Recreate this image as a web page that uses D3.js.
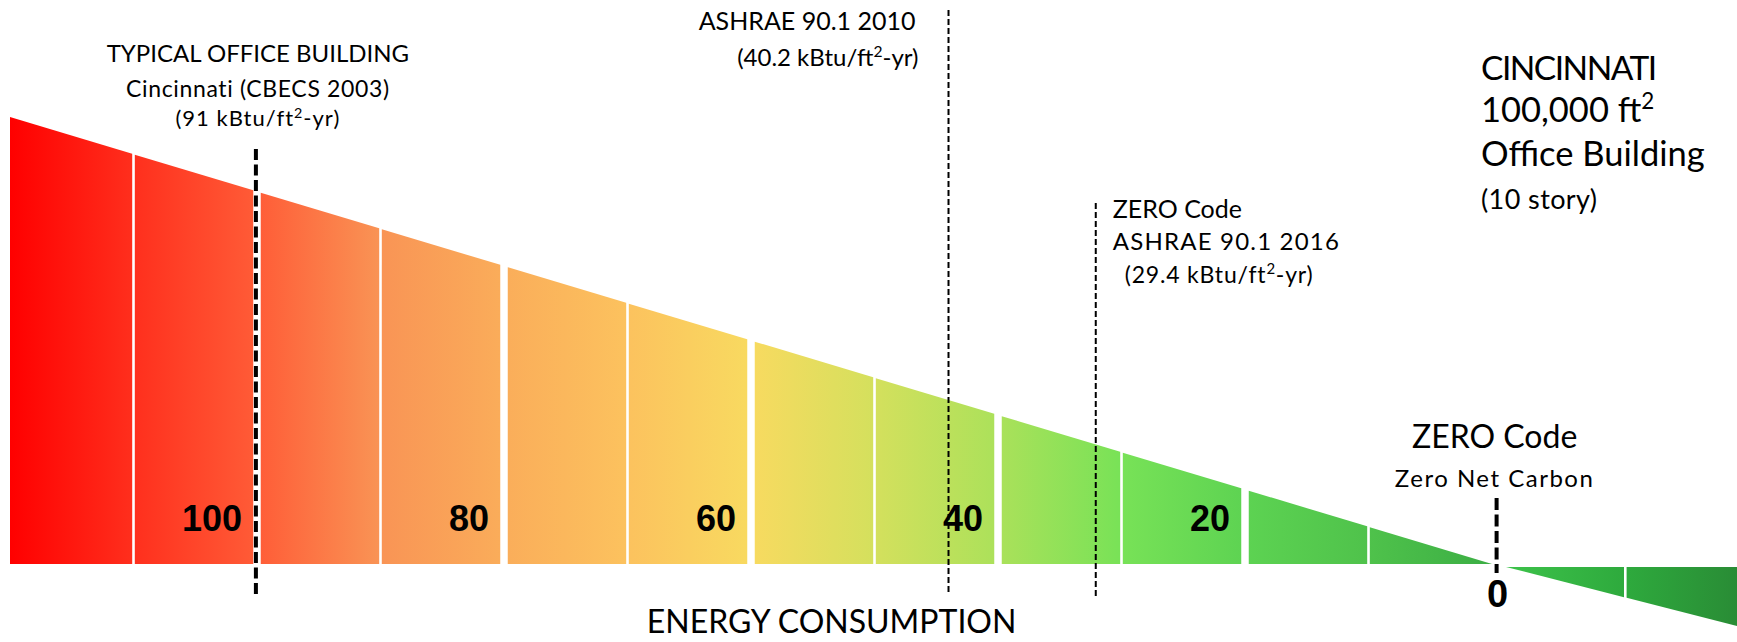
<!DOCTYPE html>
<html>
<head>
<meta charset="utf-8">
<script src="https://cdn.jsdelivr.net/npm/d3@7"></script>
<style>
  html, body { margin: 0; padding: 0; background: #fff; }
  svg { display: block; }
  text { font-family: Lato, "Open Sans", sans-serif; fill: #000; }
  .num { font-family: "Liberation Sans", Arial, sans-serif; font-weight: bold; }
</style>
</head>
<body>
<script>
// Energy-use bands, in kBtu/ft²-yr, from the high end down to zero
const bandEdges = [120, 110, 100, 90, 80, 70, 60, 50, 40, 30, 20, 10, 0];
// Bands beyond zero (net energy producer)
const belowEdges = [0, -10, -20];
// Numbers printed inside the bands
const bandLabels = [100, 80, 60, 40, 20];
const zeroLabel = 0;

// Benchmark levels, kBtu/ft²-yr
const benchmarkValues = [91, 40.2, 29.4, 0];
const typicalLines = ["TYPICAL OFFICE BUILDING", "Cincinnati (CBECS 2003)"];
const ashrae2010Lines = ["ASHRAE 90.1 2010"];
const ashrae2016Lines = ["ZERO Code", "ASHRAE 90.1 2016"];
const zeroLines = ["ZERO Code", "Zero Net Carbon"];
const unitText = "kBtu/ft";
const titleLines = ["CINCINNATI", "100,000 ft", "Office Building", "(10 story)"];
const axisTitle = "ENERGY CONSUMPTION";

// Colour ramp along the bands (one colour per band edge)
const bandColors = ["#FF0000", "#FF2F1D", "#FF5C37", "#F99455", "#FAAD5A", "#FCC25E",
                    "#F8DA60", "#D4E05D", "#ABE15A", "#78E257", "#5DD352", "#4FC24B", "#3BAE44"];
const belowColors = ["#3DC24A", "#2EAA3D", "#298A35"];

const W = 1737, H = 642;
const base = 564;

const svg = d3.select("body").append("svg")
  .attr("width", W).attr("height", H)
  .attr("viewBox", `0 0 ${W} ${H}`);

// Scales
const xBand = d3.scaleLinear().domain([120, 0]).range([10, 1492]);
const yBand = d3.scaleLinear().domain([0, 120]).range([base, 117]);
const xBelow = d3.scaleLinear().domain([0, -20]).range([1506, 1744.6]);
const yBelow = d3.scaleLinear().domain([0, -20]).range([567, 628]);
const xKbtu = d3.scaleLinear().domain([0, 91]).range([1496.6, 255.9]);

// White separators: wider at the labelled (every 20) edges
const gapAt = v => (v === 120 || v === 0) ? 0 : (v % 20 === 0 ? 7.5 : 2.6);

// Gradients
const defs = svg.append("defs");
const gPos = defs.append("linearGradient")
  .attr("id", "gradPos").attr("gradientUnits", "userSpaceOnUse")
  .attr("x1", xBand(120)).attr("x2", xBand(0)).attr("y1", 0).attr("y2", 0);
gPos.selectAll("stop").data(bandEdges).join("stop")
  .attr("offset", v => (120 - v) / 120)
  .attr("stop-color", (v, i) => bandColors[i]);

const gNeg = defs.append("linearGradient")
  .attr("id", "gradNeg").attr("gradientUnits", "userSpaceOnUse")
  .attr("x1", xBelow(0)).attr("x2", xBelow(-20)).attr("y1", 0).attr("y2", 0);
gNeg.selectAll("stop").data(belowEdges).join("stop")
  .attr("offset", v => -v / 20)
  .attr("stop-color", (v, i) => belowColors[i]);

const line = d3.line();

// Positive bands: trapezoids under the sloping top edge
const posSegs = d3.pairs(bandEdges).map(([a, b]) => {
  const xl = xBand(a) + gapAt(a) / 2;
  const xr = xBand(b) - gapAt(b) / 2;
  return [[xl, base], [xl, yBand(xBand.invert(xl))], [xr, yBand(xBand.invert(xr))], [xr, base]];
});
svg.append("g").selectAll("path").data(posSegs).join("path")
  .attr("d", d => line(d) + "Z")
  .attr("fill", "url(#gradPos)");

// Bands past zero hang below the baseline
const negSegs = d3.pairs(belowEdges).map(([a, b]) => {
  const xl = xBelow(a) + (a === 0 ? 0 : 1.3);
  const xr = xBelow(b) - (b === -20 ? 0 : 1.3);
  return [[xl, yBelow(0)], [xr, yBelow(0)], [xr, yBelow(xBelow.invert(xr))], [xl, yBelow(xBelow.invert(xl))]];
});
svg.append("g").selectAll("path").data(negSegs).join("path")
  .attr("d", d => line(d) + "Z")
  .attr("fill", "url(#gradNeg)");

// Band numbers
svg.append("g").selectAll("text").data(bandLabels).join("text")
  .attr("class", "num")
  .attr("x", v => xBand(v) - 15)
  .attr("y", 530.7)
  .attr("text-anchor", "end")
  .attr("font-size", 36)
  .text(v => v);

svg.append("text").attr("class", "num")
  .attr("x", xKbtu(zeroLabel) + 1).attr("y", 606.7)
  .attr("text-anchor", "middle").attr("font-size", 38)
  .text(zeroLabel);

// Benchmark lines
const markerStyle = {
  91:   { y1: 149, y2: 594, w: 4, dash: "11,4.5" },
  40.2: { y1: 10,  y2: 592, w: 2, dash: "6,3" },
  29.4: { y1: 203, y2: 596, w: 2, dash: "6,3" },
  0:    { y1: 498, y2: 573, w: 4, dash: "12,4.5" }
};
svg.append("g").selectAll("line").data(benchmarkValues).join("line")
  .attr("x1", v => xKbtu(v)).attr("x2", v => xKbtu(v))
  .attr("y1", v => markerStyle[v].y1).attr("y2", v => markerStyle[v].y2)
  .attr("stroke", "#000")
  .attr("stroke-width", v => markerStyle[v].w)
  .attr("stroke-dasharray", v => markerStyle[v].dash);

// Text "(v kBtu/ft²-yr)" with a superscript 2
function unitLabel(sel, v) {
  sel.append("tspan").text(`(${v} ${unitText}`);
  sel.append("tspan").attr("baseline-shift", "super").attr("font-size", "0.65em").text("2");
  sel.append("tspan").text("-yr)");
}

// Typical office building
const xTyp = xKbtu(91) + 2;
svg.append("text").attr("x", xTyp).attr("y", 62).attr("text-anchor", "middle")
  .attr("font-size", 24).text(typicalLines[0]);
svg.append("text").attr("x", xTyp).attr("y", 97).attr("text-anchor", "middle")
  .attr("font-size", 23).attr("letter-spacing", 0.65).text(typicalLines[1]);
svg.append("text").attr("x", xTyp).attr("y", 126).attr("text-anchor", "middle")
  .attr("font-size", 22).attr("letter-spacing", 1).call(unitLabel, 91);

// ASHRAE 90.1 2010
const x2010 = xKbtu(40.2) - 30;
svg.append("text").attr("x", x2010 - 3).attr("y", 30).attr("text-anchor", "end")
  .attr("font-size", 25).text(ashrae2010Lines[0]);
svg.append("text").attr("x", x2010).attr("y", 66).attr("text-anchor", "end")
  .attr("font-size", 24).call(unitLabel, 40.2);

// ZERO Code / ASHRAE 90.1 2016
const x2016 = xKbtu(29.4) + 17;
svg.append("text").attr("x", x2016).attr("y", 218.3).attr("font-size", 25).text(ashrae2016Lines[0]);
svg.append("text").attr("x", x2016).attr("y", 250).attr("font-size", 24)
  .attr("letter-spacing", 1.2).text(ashrae2016Lines[1]);
svg.append("text").attr("x", x2016 + 12).attr("y", 283).attr("font-size", 23)
  .attr("letter-spacing", 0.8).call(unitLabel, 29.4);

// ZERO Code at zero
const xZero = xKbtu(0) - 2;
svg.append("text").attr("x", xZero).attr("y", 447.7).attr("text-anchor", "middle")
  .attr("font-size", 32).text(zeroLines[0]);
svg.append("text").attr("x", xZero).attr("y", 487).attr("text-anchor", "middle")
  .attr("font-size", 24).attr("letter-spacing", 1.5).text(zeroLines[1]);

// Building description block
const xTitle = 1481;
svg.append("text").attr("x", xTitle).attr("y", 80).attr("font-size", 33.5)
  .attr("letter-spacing", -1.5).text(titleLines[0]);
const t2 = svg.append("text").attr("x", xTitle).attr("y", 121.7).attr("font-size", 34.5);
t2.append("tspan").text(titleLines[1]);
t2.append("tspan").attr("baseline-shift", "super").attr("font-size", "0.65em").text("2");
svg.append("text").attr("x", xTitle).attr("y", 166).attr("font-size", 34.5).text(titleLines[2]);
svg.append("text").attr("x", xTitle).attr("y", 209).attr("font-size", 27)
  .attr("letter-spacing", 0.4).text(titleLines[3]);

// Axis title
svg.append("text").attr("x", 831.6).attr("y", 633).attr("text-anchor", "middle")
  .attr("font-size", 32).text(axisTitle);
</script>
</body>
</html>
